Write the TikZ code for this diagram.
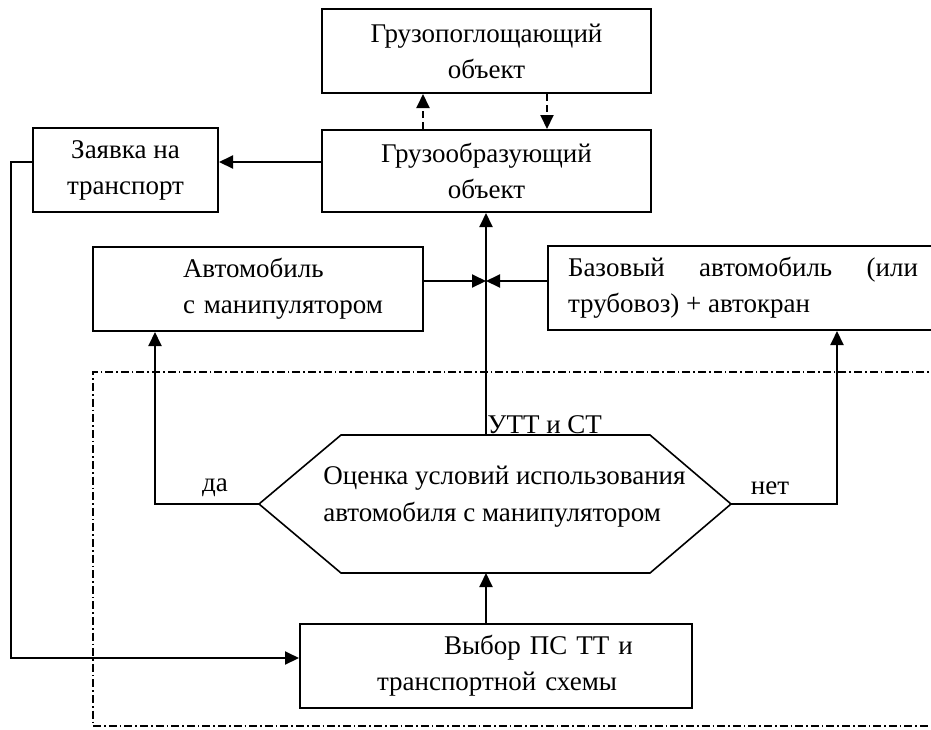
\documentclass[tikz,border=0pt]{standalone}
\usepackage{fontspec}
\setmainfont{Liberation Serif}
\usetikzlibrary{arrows.meta}

\begin{document}
\begin{tikzpicture}[x=0.5pt,y=-0.5pt,
    box/.style={draw,line width=1pt,rectangle,inner sep=0pt,align=center,font=\fontsize{13.5}{18}\selectfont},
    arr/.style={line width=1pt,-{Triangle[length=7pt,width=6.5pt]}},
    dasharr/.style={arr,dash pattern=on 3.5pt off 2pt},
    lbl/.style={font=\fontsize{13.5}{18.5}\selectfont,inner sep=1pt},
    dashdot/.style={line width=1pt,dash pattern=on 4pt off 1.5pt on 0.8pt off 1.5pt}]
    \useasboundingbox (0,0) rectangle (931,729);

    \node[box,minimum width=164.5pt,minimum height=42pt] (gpo) at (486.5,51) {Грузопоглощающий\\объект};
    \node[box,minimum width=164.5pt,minimum height=41pt] (gobr) at (486.5,171) {Грузообразующий\\объект};
    \node[box,minimum width=92.5pt,minimum height=42pt] (zayavka) at (125.5,170) {Заявка на\\транспорт};
    \node[box,minimum height=42pt,text width=165pt,align=left] (avto) at (258,289) {\hspace*{45pt}Автомобиль\\\hspace*{45pt}с манипулятором};
    \node[box,anchor=west,minimum height=42pt,text width=175pt,inner xsep=10pt,align=justify] (baz) at (547,288) {Базовый автомобиль (или\linebreak трубовоз) + автокран};
    \node[box,minimum height=42pt,text width=196pt,align=left] (vybor) at (496,666) {\hspace*{72pt}Выбор ПС ТТ и\\\hspace*{38.5pt}транспортной схемы};

    % decision block
    \coordinate (hexl) at (259,504);
    \coordinate (hexr) at (731,504);
    \coordinate (hext) at (486,435);
    \coordinate (hexb) at (486,573);
    \draw[line width=0.8pt] (hexl) -- (341,435) -- (650,435) -- (hexr) -- (650,573) -- (341,573) -- cycle;
    \node[lbl,align=left,anchor=west] (ocenka) at (321,497) {Оценка условий использования\\автомобиля с манипулятором};

    \node[lbl] (da) at (215,488) {да};
    \node[lbl] (net) at (770,488) {нет};
    \node[lbl,anchor=south west,inner sep=0.5pt] (utt) at (hext) {УТТ и СТ};

    \coordinate (meet) at (486,281);
    \coordinate (zin) at ([yshift=4pt]zayavka.east);

    \draw[dasharr] ([xshift=-31.75pt]gobr.north) -- ([xshift=-31.75pt]gpo.south);
    \draw[dasharr] ([xshift=30.25pt]gpo.south) -- ([xshift=30.25pt]gobr.north);
    \draw[arr] (zin -| gobr.west) -- (zin);
    \draw[arr] ([yshift=4pt]zayavka.west) -- ++(-21,0) |- ([yshift=4pt]vybor.west);
    \draw[arr] (vybor.north -| hexb) -- (hexb);
    \draw[arr] (hext) -- (gobr.south -| hext);
    \draw[arr] (avto.east |- meet) -- (meet);
    \draw[arr] (baz.west |- meet) -- (meet);
    \draw[arr] (hexl) -| ([xshift=-51.5pt]avto.south);
    \draw[arr] (hexr) -| ([xshift=47pt]baz.south);

    \draw[dashdot] (940,372) -- (93,372) -- (93,726) -- (940,726);
\end{tikzpicture}
\end{document}
